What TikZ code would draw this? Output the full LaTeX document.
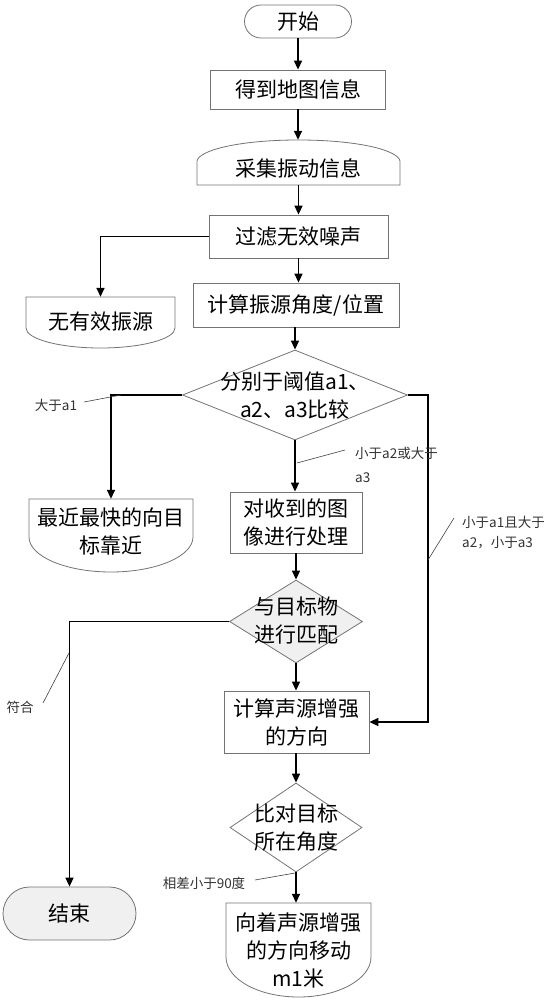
\documentclass[tikz,border=0pt]{standalone}
\usepackage{fontspec}
\newfontfamily\cjk{Noto Sans CJK SC}
\usetikzlibrary{arrows.meta,shapes.geometric}
\newcommand\fmain{\cjk\fontsize{21}{28}\selectfont}
\newcommand\flab{\cjk\fontsize{13.5}{21}\selectfont}
\begin{document}
\begin{tikzpicture}[x=1pt,y=-1pt,
  box/.style={rectangle, draw=black!55, line width=0.8pt, inner sep=0pt, font=\fmain, align=center},
  term/.style={rectangle, draw=black!55, line width=0.8pt, inner sep=0pt, font=\fmain, align=center},
  plain/.style={rectangle, draw=none, inner sep=0pt},
  txt/.style={inner sep=0pt, font=\fmain, align=center},
  dia/.style={diamond, draw=black!55, line width=0.8pt, inner sep=0pt},
  outline/.style={draw=black!55, line width=0.8pt},
  conn/.style={draw=black, line width=1.5pt, -{Triangle[length=9pt,width=8pt]}},
  lab/.style={inner sep=1pt, font=\flab, text=black!80},
  leader/.style={draw=black!75, line width=0.6pt}]
\useasboundingbox (0,0) rectangle (552,1000);

% ---- nodes ----
\node[term, rounded corners=16.5pt, minimum width=107pt, minimum height=33pt] (start) at (298,21.5) {开始};
\node[box, minimum width=175pt, minimum height=39pt] (map) at (298,89.5) {得到地图信息};

\node[plain, minimum width=203pt, minimum height=45pt] (collect) at (298.5,162.5) {};
\draw[outline] (197,185) -- (197,161) .. controls (199,150) and (240,140) .. (298.5,140)
  .. controls (357,140) and (398,150) .. (400,161) -- (400,185) -- cycle;
\node[txt] (collect-t) at (298.5,168) {采集振动信息};

\node[box, minimum width=179pt, minimum height=43pt] (filter) at (298.5,236.5) {过滤无效噪声};

\node[plain, minimum width=149pt, minimum height=51pt] (noeff) at (100.5,322.5) {};
\draw[outline] (26,297) -- (175,297) -- (175,328) .. controls (175,339) and (141.6,348) .. (100.5,348)
  .. controls (59.4,348) and (26,339) .. (26,328) -- cycle;
\node[txt] (noeff-t) at (100.5,322) {无有效振源};

\node[box, minimum width=206pt, minimum height=44pt] (calc1) at (296,305) {计算振源角度/位置};

\node[dia, minimum width=225pt, minimum height=90pt] (d1) at (295,395) {};
\node[txt] (d1-t) at (295,396) {分别于阈值a1、\\a2、a3比较};

\node[plain, minimum width=164pt, minimum height=73pt] (near) at (111,535.5) {};
\draw[outline] (29,499) -- (193,499) -- (193,537) .. controls (193,556.3) and (156.3,572) .. (111,572)
  .. controls (65.7,572) and (29,556.3) .. (29,537) -- cycle;
\node[txt] (near-t) at (111,531) {最近最快的向目\\标靠近};

\node[box, minimum width=132pt, minimum height=61pt] (proc) at (296,522.5) {对收到的图\\像进行处理};

\node[dia, fill=gray!12, minimum width=133pt, minimum height=83pt] (d2) at (296,621.5) {};
\node[txt] (d2-t) at (296,621) {与目标物\\进行匹配};

\node[box, minimum width=145pt, minimum height=62pt] (calc2) at (296.5,722) {计算声源增强\\的方向};

\node[dia, minimum width=132pt, minimum height=89pt] (d3) at (296,827.5) {};
\node[txt] (d3-t) at (296,827.5) {比对目标\\所在角度};

\node[term, fill=gray!12, rounded corners=26.5pt, minimum width=133pt, minimum height=53pt] (stop) at (69.5,913.5) {结束};

\node[plain, minimum width=145pt, minimum height=94pt] (move) at (298.5,950) {};
\draw[outline] (226,903) -- (371,903) -- (371,957) .. controls (371,979.1) and (338.5,997) .. (298.5,997)
  .. controls (258.5,997) and (226,979.1) .. (226,957) -- cycle;
\node[txt] (move-t) at (298.5,950) {向着声源增强\\的方向移动\\m1米};

% ---- connectors ----
\coordinate (rturn) at (428,395);
\draw[conn] (start.south) -- (start.south |- map.north);
\draw[conn] (map.south) -- (map.south |- collect.north);
\draw[conn] (collect.south) -- (collect.south |- filter.north);
\draw[conn] (filter.west) -| (noeff.north);
\draw[conn] (filter.south) -- (filter.south |- calc1.north);
\draw[conn] (calc1.south -| d1.north) -- (d1.north);
\draw[conn] (d1.west) -| (near.north);
\draw[conn] (d1.south) -- (d1.south |- proc.north);
\draw[conn] (d1.east) -- (rturn) |- (calc2.east);
\draw[conn] (proc.south -| d2.north) -- (d2.north);
\draw[conn] (d2.west) -| (stop.north);
\draw[conn] (d2.south) -- (d2.south |- calc2.north);
\draw[conn] (calc2.south -| d3.north) -- (d3.north);
\draw[conn] (d3.south) -- (d3.south |- move.north);

% ---- labels ----
\node[lab] (l1) at (56,405) {大于a1};
\coordinate (l1a) at (84,402);
\coordinate (l1b) at (121,395);
\draw[leader] (l1a) -- (l1b);

\node[lab, anchor=west, align=left, font=\cjk\fontsize{13.5}{24}\selectfont] (l2) at (354,465) {小于a2或大于\\a3};
\coordinate (l2a) at (297,463);
\coordinate (l2b) at (345,450);
\draw[leader] (l2a) -- (l2b);

\node[lab, anchor=west, align=left, font=\cjk\fontsize{13.5}{20}\selectfont] (l3) at (461,533) {小于a1且大于\\a2，小于a3};
\coordinate (l3a) at (454,518);
\coordinate (l3b) at (428,560);
\draw[leader] (l3a) -- (l3b);

\node[lab] (l4) at (20,707) {符合};
\coordinate (l4a) at (43,703);
\coordinate (l4b) at (69,653);
\draw[leader] (l4a) -- (l4b);

\node[lab] (l5) at (204,883) {相差小于90度};
\coordinate (l5a) at (255,880);
\coordinate (l5b) at (295,873);
\draw[leader] (l5a) -- (l5b);
\end{tikzpicture}
\end{document}
